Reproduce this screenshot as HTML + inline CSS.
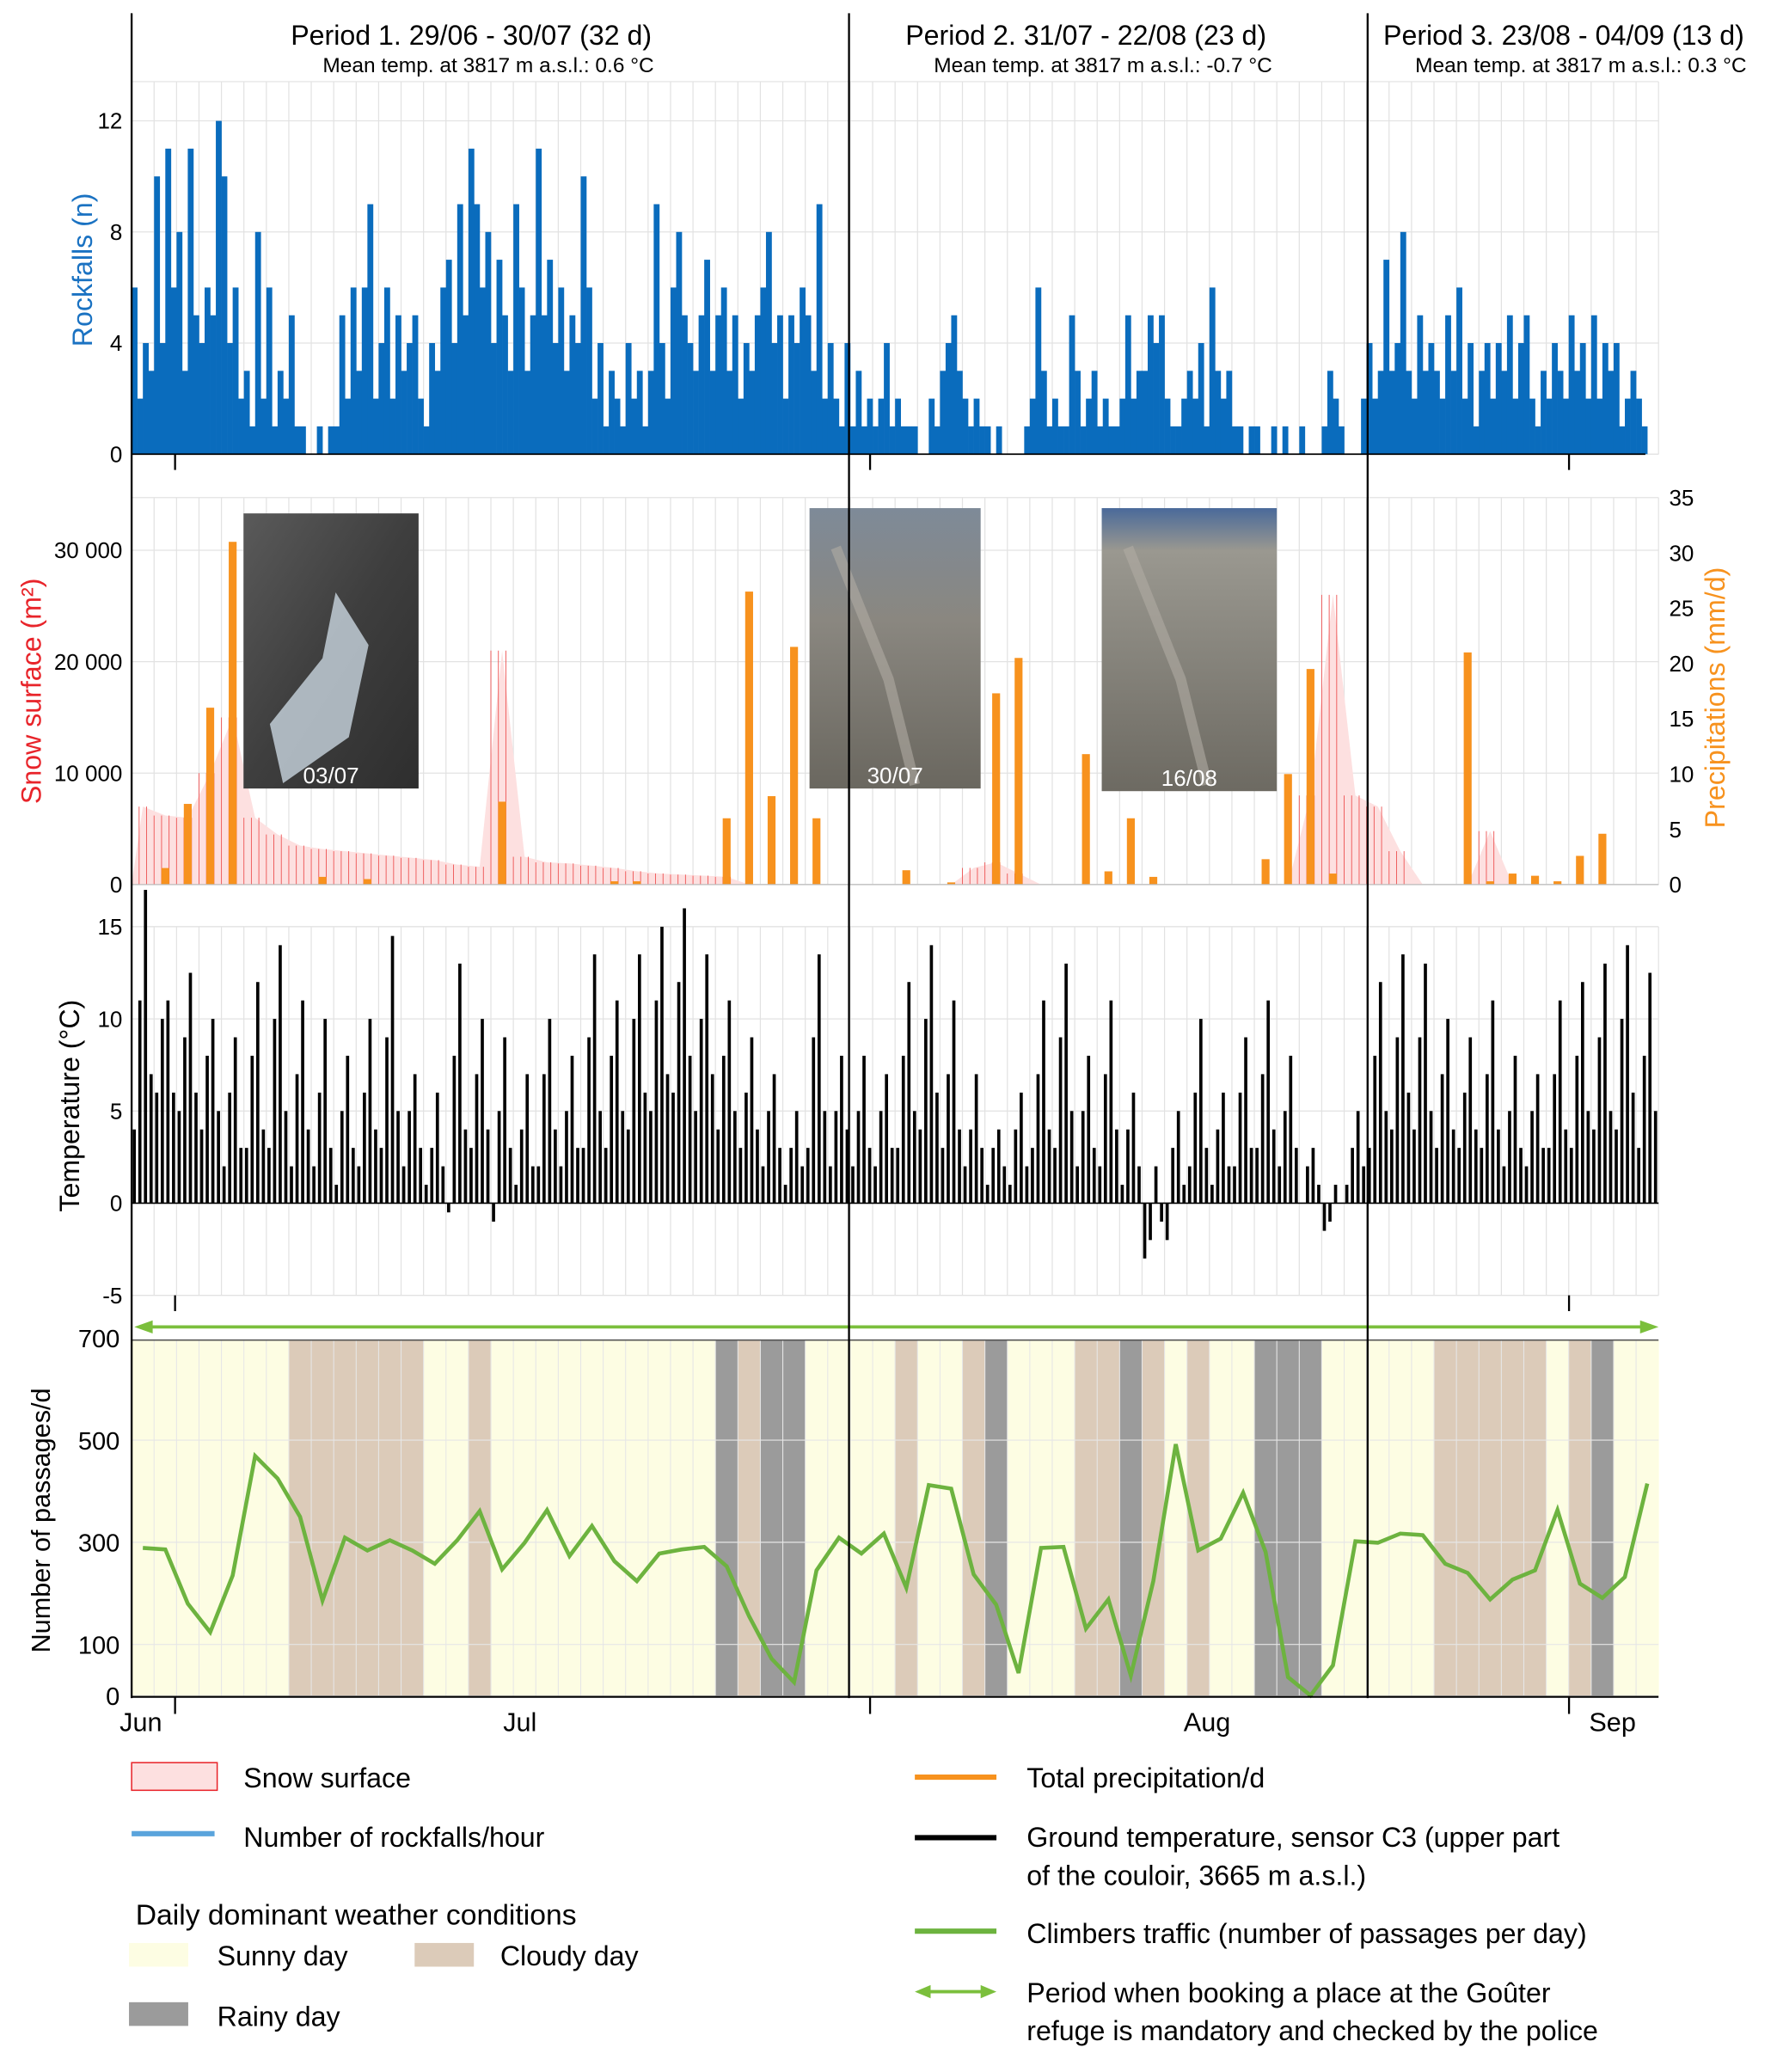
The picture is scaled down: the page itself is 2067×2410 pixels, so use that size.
<!DOCTYPE html>
<html><head><meta charset="utf-8">
<style>
html,body{margin:0;padding:0;background:#fff;}
svg{display:block;font-family:"Liberation Sans Narrow","Liberation Sans",sans-serif;}
</style></head>
<body>
<svg id="chart" width="2067" height="2410" viewBox="0 0 1350 1574" xmlns="http://www.w3.org/2000/svg">
<defs>
<linearGradient id="ph1" x1="0" y1="0" x2="1" y2="1"><stop offset="0" stop-color="#5a5a5a"/><stop offset="0.5" stop-color="#3e3e3e"/><stop offset="1" stop-color="#2e2e2e"/></linearGradient>
<linearGradient id="ph2" x1="0" y1="0" x2="0" y2="1"><stop offset="0" stop-color="#7e8a98"/><stop offset="0.4" stop-color="#8a8780"/><stop offset="1" stop-color="#6a675f"/></linearGradient>
<linearGradient id="ph3" x1="0" y1="0" x2="0" y2="1"><stop offset="0" stop-color="#4a6a9a"/><stop offset="0.15" stop-color="#9a9890"/><stop offset="1" stop-color="#6d6a62"/></linearGradient>
</defs>
<g id="layer"></g>
</svg>
<script>
// ---------- DATA ----------
const nDays = 68;
const rockfalls = [
6,2,4,3, 10,4,11,6, 8,3,11,5, 4,6,5,12, 10,4,6,2, 3,1,8,2, 6,1,3,2, 5,1,1,0,
0,1,0,1, 1,5,2,6, 3,6,9,2, 4,6,2,5, 3,4,5,2, 1,4,3,6, 7,4,9,5, 11,9,6,8,
4,7,5,3, 9,6,3,5, 11,5,7,4, 6,3,5,4, 10,6,2,4, 1,3,2,1, 4,2,3,1, 3,9,4,2,
6,8,5,4, 3,5,7,3, 5,6,3,5, 2,4,3,5, 6,8,4,5, 2,5,4,6, 5,3,9,2, 4,2,1,4,
1,3,1,2, 1,2,4,1, 2,1,1,1, 0,0,2,1, 3,4,5,3, 2,1,2,1, 1,0,1,0, 0,0,0,1,
2,6,3,1, 2,1,1,5, 3,1,2,3, 1,2,1,1, 2,5,2,3, 3,5,4,5, 2,1,1,2, 3,2,4,1,
6,3,2,3, 1,1,0,1, 1,0,0,1, 0,1,0,0, 1,0,0,0, 1,3,2,1, 0,0,0,2, 4,2,3,7,
3,4,8,3, 2,5,3,4, 3,2,5,3, 6,2,4,1, 3,4,2,4, 3,5,2,4, 5,2,1,3, 2,4,3,2,
5,3,4,2, 5,2,4,3, 4,1,2,3, 2,1,0,0];
const snowArea = [7000,6200,6000,10000,15000,6000,4500,3500,3200,3000,2800,2600,2400,2200,1800,1600,21000,2500,2000,1900,1700,1500,1200,1000,900,800,700,0,0,0,0,0,0,0,0,0,0,1500,2000,1000,0,0,0,0,0,0,0,0,0,0,0,0,8000,26000,8000,7000,3000,0,0,0,4800,0,0,0,0,0,0,0];
const precipDays = [1,2,3,4,8,10,16,21,22,26,27,28,29,30,34,36,38,39,42,43,44,45,50,51,52,53,59,60,61,62,63,64,65];
const precipValues = [1.5,7.3,16,31,0.7,0.5,7.5,0.3,0.3,6,26.5,8,21.5,6,1.3,0.2,17.3,20.5,11.8,1.2,6,0.7,2.3,10,19.5,1,21,0.3,1,0.8,0.3,2.6,4.6];
const temps = [
4,11,17,7, 6,10,11,6, 5,9,12.5,6, 4,8,10,5, 2,6,9,3, 3,8,12,4, 3,10,14,5, 2,7,11,4,
2,6,10,3, 1,5,8,3, 2,6,10,4, 3,9,14.5,5, 2,5,7,3, 1,3,6,2, -0.5,8,13,4, 3,7,10,4,
-1,5,9,3, 1,4,7,2, 2,7,10,4, 2,5,8,3, 3,9,13.5,5, 3,8,11,5, 4,10,13.5,6, 5,11,15,7,
6,12,16,8, 5,10,13.5,7, 4,8,11,5, 3,6,9,4, 2,5,7,3, 1,3,5,2, 3,9,13.5,5, 2,5,8,4,
2,5,8,3, 2,5,7,3, 3,8,12,5, 4,10,14,6, 3,7,11,4, 2,4,7,3, 1,3,4,2, 1,4,6,2,
3,7,11,4, 3,9,13,5, 2,5,8,3, 2,7,11,4, 1,4,6,2, -3,-2,2,-1, -2,3,5,1, 2,6,10,3,
1,4,6,2, 2,6,9,3, 3,7,11,4, 2,5,8,3, 0,2,3,1, -1.5,-1,1,0, 1,3,5,2, 3,8,12,5,
4,9,13.5,6, 4,9,13,5, 3,7,10,4, 3,6,9,4, 3,7,11,4, 2,5,8,3, 2,5,7,3, 3,7,11,4,
3,8,12,5, 4,9,13,5, 4,10,14,6, 3,8,12.5,5];
const traffic = [289,286,180,124,235,469,425,350,186,309,284,304,284,258,304,361,247,299,363,273,332,263,224,278,286,291,253,155,72,26,245,309,278,317,211,412,405,237,178,44,289,291,131,188,39,224,492,284,307,397,281,36,0,59,302,299,317,314,258,240,188,227,245,363,219,191,232,415];
const weather = "SSSSSSSCCCCCCSSCSSSSSSSSSSRCRRSSSSCSSCRSSSCCRCSCSSRRRSSSSSCCCCCSCRSS";
const rockTicks = [0,4,8,12];
const snowTicks = [0,10000,20000,30000];
const snowTickLabels = ["0","10 000","20 000","30 000"];
const precipTicks = [0,5,10,15,20,25,30,35];
const tempTicks = [-5,0,5,10,15];
const trafficTicks = [0,100,300,500,700];
const monthLabels = ["Jun","Jul","Aug","Sep"];
const monthLabelX = [107,395,917,1225];

// ---------- SCALES ----------
const X0=100, X1=1260, DW=(X1-X0)/nDays;
const xDay = d => X0 + d*DW;
const yRock = v => 345 - v*21.1;
const ySnow = v => 672 - v*254/30000;
const yPrec = v => 672 - v*8.4;
const yTemp = v => 914 - v*14;
const yTraf = v => 1288 - v*0.388;

const NS="http://www.w3.org/2000/svg";
const L=document.getElementById('layer');
function mk(tag, attrs, parent){const e=document.createElementNS(NS,tag);for(const k in attrs)e.setAttribute(k,attrs[k]);(parent||L).appendChild(e);return e;}
function txt(s, attrs, parent){const e=mk('text',attrs,parent);e.textContent=s;return e;}

// ---------- GRIDS ----------
const grid=mk('g',{});


[[62,345],[378,672],[704,984]].forEach(([a,b])=>{
  for(let d=0; d<=nDays; d++) mk('line',{x1:xDay(d),x2:xDay(d),y1:a,y2:b,stroke:'#e2e2e2','stroke-width':0.8},grid);
  mk('line',{x1:X0,x2:X1,y1:a,y2:a,stroke:'#e2e2e2','stroke-width':0.8},grid);
  mk('line',{x1:X0,x2:X1,y1:b,y2:b,stroke:'#e2e2e2','stroke-width':0.8},grid);
});
rockTicks.forEach(t=>mk('line',{x1:X0,x2:X1,y1:yRock(t),y2:yRock(t),stroke:'#e2e2e2','stroke-width':0.8},grid));
snowTicks.forEach(t=>mk('line',{x1:X0,x2:X1,y1:ySnow(t),y2:ySnow(t),stroke:'#e2e2e2','stroke-width':0.8},grid));
tempTicks.forEach(t=>mk('line',{x1:X0,x2:X1,y1:yTemp(t),y2:yTemp(t),stroke:'#e2e2e2','stroke-width':0.8},grid));

// ---------- WEATHER ----------
const wcol={S:'#fdfde3',C:'#dccbb9',R:'#9b9b9b'};
for(let d=0; d<nDays; d++){
  const r=mk('rect',{x:xDay(d),y:1018,width:DW+0.3,height:270,fill:wcol[weather[d]]});
  
  
}
for(let d=1; d<nDays; d++) mk('line',{x1:xDay(d),x2:xDay(d),y1:1018,y2:1288,stroke:'#e6e6e6','stroke-width':0.7});
trafficTicks.slice(1,4).forEach(t=>mk('line',{x1:X0,x2:X1,y1:yTraf(t),y2:yTraf(t),stroke:'#e6e6e6','stroke-width':0.8}));
mk('line',{x1:X0,x2:X1,y1:1018,y2:1018,stroke:'#555','stroke-width':1});

// ---------- ROCKFALLS ----------
const slot=DW/4;
rockfalls.forEach((v,i)=>{
  if(v<=0) return;
  const r=mk('rect',{x:X0+i*slot,y:yRock(v),width:slot+0.2,height:345-yRock(v),fill:'#0a6cbd'});
  
  
});
mk('line',{x1:X0,x2:1250,y1:345,y2:345,stroke:'#000','stroke-width':1.2});
[133,661,1192].forEach(x=>mk('line',{x1:x,x2:x,y1:345,y2:357,stroke:'#000','stroke-width':1.5}));

// ---------- SNOW ----------
let pts=[[xDay(0),672]];
snowArea.forEach((v,d)=>pts.push([xDay(d+0.5),ySnow(v)]));
pts.push([xDay(nDays),672]);
const sa=mk('polygon',{points:pts.map(p=>p.join(',')).join(' '),fill:'#fde0e0',stroke:'none'});


snowArea.forEach((v,d)=>{
  if(v<=0) return;
  for(let k=0;k<3;k++){
    const l=mk('line',{x1:xDay(d)+k*DW/3,x2:xDay(d)+k*DW/3,y1:672,y2:ySnow(v),stroke:'#ee5555','stroke-width':0.6});
    
    
  }
});
precipDays.forEach((d,i)=>{
  const v=precipValues[i];
  const r=mk('rect',{x:xDay(d+0.5)-3,y:yPrec(v),width:6,height:672-yPrec(v),fill:'#f7921e'});
  
  
});
mk('line',{x1:X0,x2:X1,y1:672,y2:672,stroke:'#bbb','stroke-width':0.8});

// photos
[[185,390,133,209,'ph1','03/07'],[615,386,130,213,'ph2','30/07'],[837,386,133,215,'ph3','16/08']].forEach(p=>{
  const g=mk('g',{});
  
  
  mk('rect',{x:p[0],y:p[1],width:p[2],height:p[3],fill:'url(#'+p[4]+')'},g);
  if(p[4]==='ph1') mk('path',{d:`M${p[0]+70},${p[1]+60} L${p[0]+60},${p[1]+110} L${p[0]+20},${p[1]+160} L${p[0]+30},${p[1]+205} L${p[0]+80},${p[1]+170} L${p[0]+95},${p[1]+100} Z`,fill:'#c9d6e0',opacity:0.8},g);
  else mk('path',{d:`M${p[0]+20},${p[1]+30} L${p[0]+60},${p[1]+130} L${p[0]+80},${p[1]+210}`,stroke:'#b0aca4','stroke-width':8,fill:'none',opacity:0.6},g);
  txt(p[5],{x:p[0]+p[2]/2,y:p[1]+p[3]-4,'font-size':17,fill:'#fff','text-anchor':'middle'},g);
});

// ---------- TEMPERATURE ----------
temps.forEach((v,i)=>{
  const y=yTemp(v);
  const r=mk('rect',{x:X0+i*slot+0.8,y:Math.min(y,914),width:2.4,height:Math.abs(914-y),fill:'#000'});
  
  
});
mk('line',{x1:X0,x2:X1,y1:914,y2:914,stroke:'#000','stroke-width':1});
[133,1192].forEach(x=>mk('line',{x1:x,x2:x,y1:984,y2:996,stroke:'#000','stroke-width':1.5}));

// ---------- TRAFFIC ----------
const tl=mk('polyline',{points:traffic.map((v,d)=>xDay(d+0.5)+','+yTraf(v)).join(' '),fill:'none',stroke:'#6db33f','stroke-width':3,'stroke-linejoin':'miter'});



// booking arrow
const ag=mk('g',{});


mk('line',{x1:110,x2:1250,y1:1008,y2:1008,stroke:'#7bbf3c','stroke-width':2.5},ag);
mk('polygon',{points:'102,1008 116,1003 116,1013',fill:'#7bbf3c'},ag);
mk('polygon',{points:'1260,1008 1246,1003 1246,1013',fill:'#7bbf3c'},ag);

// ---------- AXES ----------
mk('line',{x1:100,x2:100,y1:10,y2:1290,stroke:'#000','stroke-width':1.5});
const p1=mk('line',{x1:645,x2:645,y1:10,y2:1290,stroke:'#000','stroke-width':1.5});


const p2=mk('line',{x1:1039,x2:1039,y1:10,y2:1290,stroke:'#000','stroke-width':1.5});


mk('line',{x1:100,x2:1260,y1:1289,y2:1289,stroke:'#000','stroke-width':1.5});
[133,661,1192].forEach(x=>mk('line',{x1:x,x2:x,y1:1289,y2:1302,stroke:'#000','stroke-width':1.5}));
monthLabels.forEach((m,i)=>{
  const t=txt(m,{x:monthLabelX[i],y:1315,'font-size':20,'text-anchor':'middle',fill:'#000'});
  
  
});
rockTicks.forEach(t=>txt(String(t),{x:93,y:yRock(t)+6,'font-size':17,'text-anchor':'end'}));
snowTicks.forEach((t,i)=>txt(snowTickLabels[i],{x:93,y:ySnow(t)+6,'font-size':17,'text-anchor':'end'}));
precipTicks.forEach(t=>txt(String(t),{x:1268,y:yPrec(t)+6,'font-size':17,'text-anchor':'start'}));
tempTicks.forEach(t=>txt(String(t),{x:93,y:yTemp(t)+6,'font-size':17,'text-anchor':'end'}));
trafficTicks.forEach(t=>txt(String(t),{x:91,y:yTraf(t)+7,'font-size':19,'text-anchor':'end'}));
</script>

<svg style="position:absolute;left:0;top:0" width="2067" height="2410" viewBox="0 0 1350 1574" xmlns="http://www.w3.org/2000/svg" font-family="Liberation Sans Narrow, Liberation Sans, sans-serif">
<g>
<text x="358" y="34" font-size="21" text-anchor="middle">Period 1. 29/06 - 30/07 (32 d)</text>
<text x="371" y="55" font-size="16" text-anchor="middle">Mean temp. at 3817 m a.s.l.: 0.6 °C</text>
<text x="825" y="34" font-size="21" text-anchor="middle">Period 2. 31/07 - 22/08 (23 d)</text>
<text x="838" y="55" font-size="16" text-anchor="middle">Mean temp. at 3817 m a.s.l.: -0.7 °C</text>
<text x="1188" y="34" font-size="21" text-anchor="middle">Period 3. 23/08 - 04/09 (13 d)</text>
<text x="1201" y="55" font-size="16" text-anchor="middle">Mean temp. at 3817 m a.s.l.: 0.3 °C</text>
</g>
<text transform="translate(70,205) rotate(-90)" font-size="21" fill="#1a72c2" text-anchor="middle">Rockfalls (n)</text>
<text transform="translate(31,525) rotate(-90)" font-size="21" fill="#e8242a" text-anchor="middle">Snow surface (m²)</text>
<text transform="translate(1310,530) rotate(-90)" font-size="21" fill="#f7921e" text-anchor="middle">Precipitations (mm/d)</text>
<text transform="translate(60,840) rotate(-90)" font-size="21" fill="#000" text-anchor="middle">Temperature (°C)</text>
<text transform="translate(38,1155) rotate(-90)" font-size="20" fill="#000" text-anchor="middle">Number of passages/d</text>

<g font-size="21">
<rect x="100" y="1339" width="65" height="21" fill="#fde0e0" stroke="#e8242a" stroke-width="1"/>
<text x="185" y="1358">Snow surface</text>
<line x1="100" x2="163" y1="1393" y2="1393" stroke="#5aa4dc" stroke-width="4"/>
<text x="185" y="1403">Number of rockfalls/hour</text>
<text x="103" y="1462" font-size="22">Daily dominant weather conditions</text>
<rect x="98" y="1476" width="45" height="18" fill="#fdfde3"/>
<text x="165" y="1493">Sunny day</text>
<rect x="315" y="1476" width="45" height="18" fill="#dccbb9"/>
<text x="380" y="1493">Cloudy day</text>
<rect x="98" y="1521" width="45" height="18" fill="#9b9b9b"/>
<text x="165" y="1539">Rainy day</text>
<line x1="695" x2="757" y1="1350" y2="1350" stroke="#f7921e" stroke-width="4"/>
<text x="780" y="1358">Total precipitation/d</text>
<line x1="695" x2="757" y1="1396" y2="1396" stroke="#000" stroke-width="4"/>
<text x="780" y="1403">Ground temperature, sensor C3 (upper part</text>
<text x="780" y="1432">of the couloir, 3665 m a.s.l.)</text>
<line x1="695" x2="757" y1="1467" y2="1467" stroke="#6db33f" stroke-width="4"/>
<text x="780" y="1476">Climbers traffic (number of passages per day)</text>
<g>
<line x1="703" x2="749" y1="1513" y2="1513" stroke="#7bbf3c" stroke-width="2.5"/>
<polygon points="695,1513 707,1508 707,1518" fill="#7bbf3c"/>
<polygon points="757,1513 745,1508 745,1518" fill="#7bbf3c"/>
</g>
<text x="780" y="1521">Period when booking a place at the Goûter</text>
<text x="780" y="1550">refuge is mandatory and checked by the police</text>
</g>
</svg>
</body></html>
